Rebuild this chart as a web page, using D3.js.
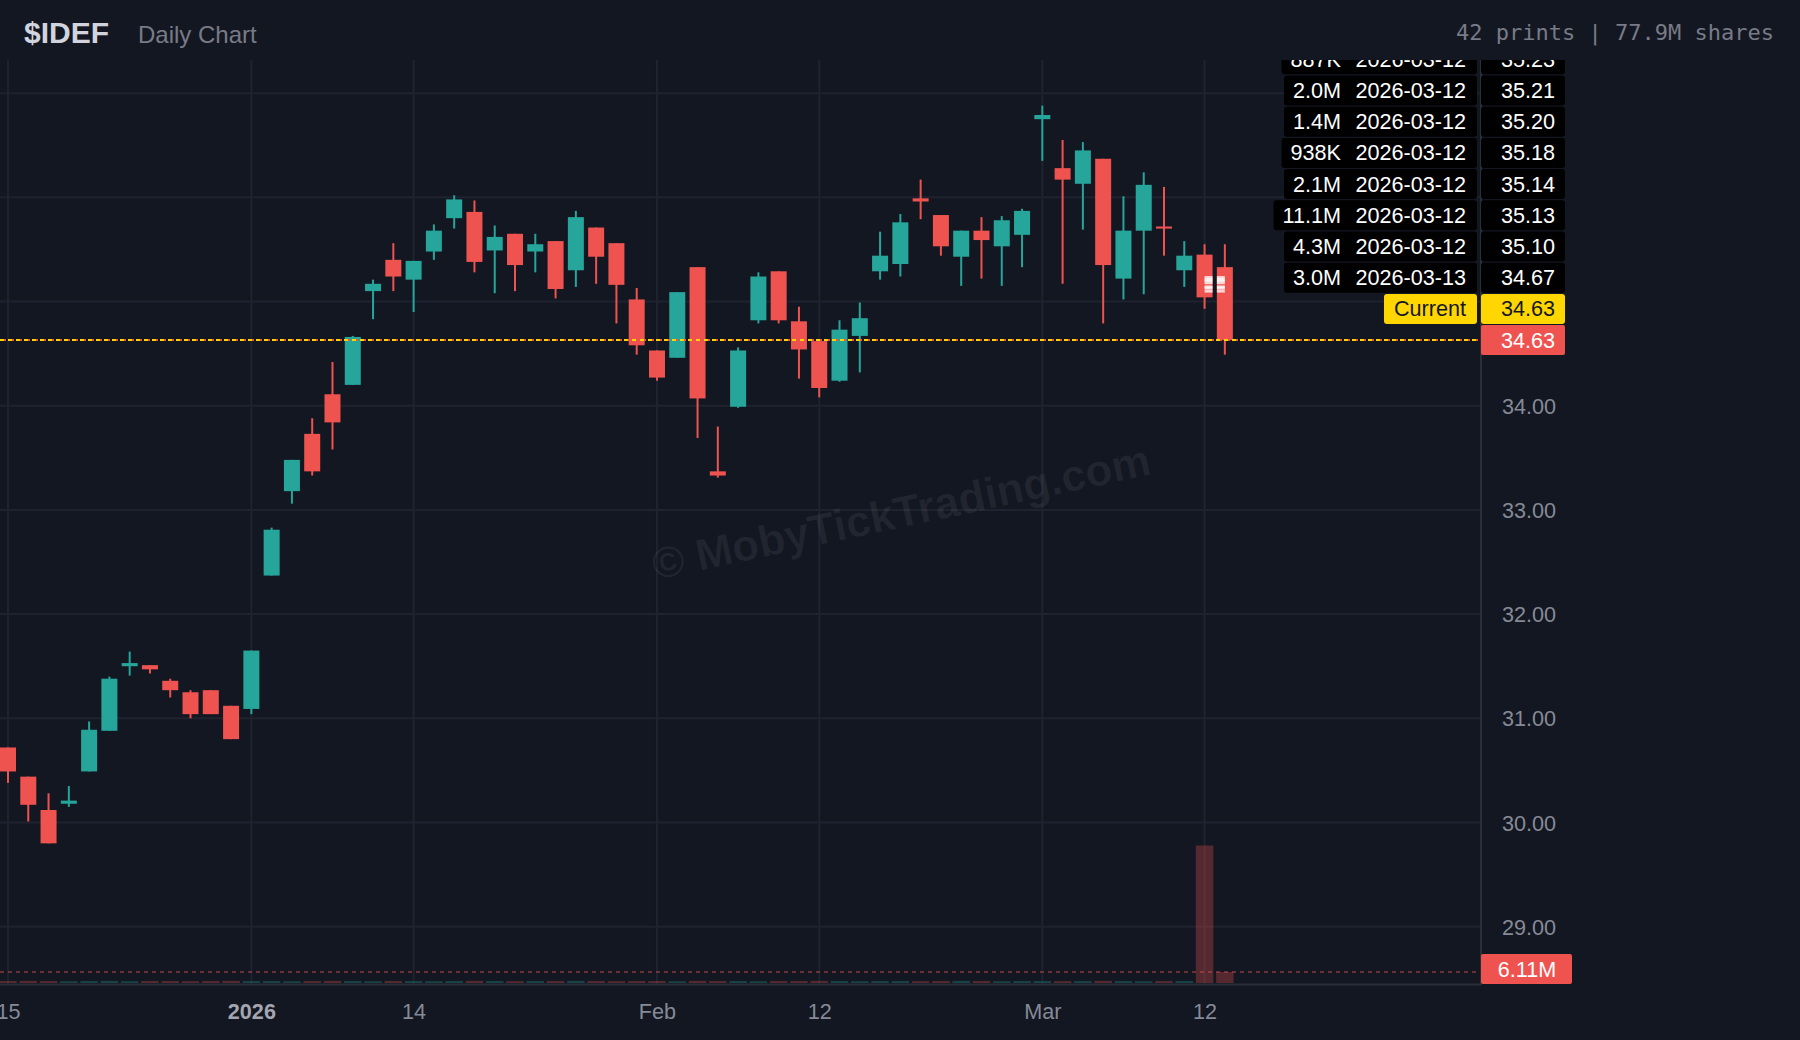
<!DOCTYPE html>
<html>
<head>
<meta charset="utf-8">
<script src="https://cdn.jsdelivr.net/npm/d3@7"></script>
<style>
  html, body { margin: 0; padding: 0; background: #131722; }
  svg { display: block; }
</style>
</head>
<body>
<svg id="chart" width="1800" height="1040"></svg>
<script>
// ---------------- DATA ----------------
const dates = [
  "2025-12-15","2025-12-16","2025-12-17","2025-12-18","2025-12-19",
  "2025-12-22","2025-12-23","2025-12-24","2025-12-26","2025-12-29",
  "2025-12-30","2025-12-31","2026-01-02","2026-01-05","2026-01-06",
  "2026-01-07","2026-01-08","2026-01-09","2026-01-12","2026-01-13",
  "2026-01-14","2026-01-15","2026-01-16","2026-01-20","2026-01-21",
  "2026-01-22","2026-01-23","2026-01-26","2026-01-27","2026-01-28",
  "2026-01-29","2026-01-30","2026-02-02","2026-02-03","2026-02-04",
  "2026-02-05","2026-02-06","2026-02-09","2026-02-10","2026-02-11",
  "2026-02-12","2026-02-13","2026-02-17","2026-02-18","2026-02-19",
  "2026-02-20","2026-02-23","2026-02-24","2026-02-25","2026-02-26",
  "2026-02-27","2026-03-02","2026-03-03","2026-03-04","2026-03-05",
  "2026-03-06","2026-03-09","2026-03-10","2026-03-11","2026-03-12",
  "2026-03-13"
];
const open = [
  30.72,30.44,30.12,30.18,30.49, 30.88,31.50,31.51,31.36,31.25,
  31.27,31.12,31.09,32.37,33.18, 33.73,34.11,34.20,35.10,35.40,
  35.21,35.48,35.80,35.86,35.49, 35.65,35.48,35.58,35.30,35.71,
  35.56,35.02,34.53,34.46,35.33, 33.37,33.99,34.82,35.29,34.81,
  34.62,34.24,34.67,35.29,35.36, 35.99,35.83,35.43,35.68,35.53,
  35.64,36.75,36.28,36.13,36.37, 35.22,35.68,35.72,35.30,35.45,
  35.33
];
const high = [
  30.72,30.44,30.28,30.35,30.97, 31.40,31.64,31.51,31.38,31.27,
  31.27,31.12,31.65,32.83,33.48, 33.88,34.42,34.67,35.21,35.56,
  35.39,35.74,36.02,35.97,35.73, 35.65,35.65,35.58,35.87,35.71,
  35.56,35.13,34.53,35.09,35.33, 33.80,34.56,35.28,35.29,34.95,
  34.63,34.82,34.99,35.67,35.84, 36.17,35.83,35.68,35.81,35.82,
  35.89,36.88,36.55,36.53,36.37, 36.01,36.24,36.10,35.58,35.55,
  35.55
];
const low = [
  30.38,30.01,29.80,30.15,30.49, 30.88,31.41,31.43,31.20,31.00,
  31.04,30.80,31.04,32.37,33.06, 33.33,33.58,34.20,34.83,35.10,
  34.90,35.40,35.70,35.28,35.08, 35.10,35.28,35.03,35.14,35.17,
  34.79,34.49,34.24,34.46,33.69, 33.31,33.98,34.79,34.79,34.26,
  34.08,34.23,34.32,35.21,35.24, 35.79,35.44,35.15,35.22,35.15,
  35.33,36.35,35.17,35.69,34.79, 35.02,35.07,35.44,35.14,34.93,
  34.49
];
const close = [
  30.49,30.17,29.80,30.21,30.89, 31.38,31.53,31.47,31.27,31.04,
  31.04,30.80,31.65,32.81,33.48, 33.37,33.84,34.66,35.17,35.24,
  35.39,35.68,35.98,35.38,35.62, 35.35,35.55,35.12,35.81,35.43,
  35.16,34.58,34.27,35.09,34.07, 33.33,34.53,35.24,34.82,34.54,
  34.17,34.73,34.84,35.44,35.76, 35.96,35.53,35.68,35.59,35.78,
  35.87,36.79,36.17,36.45,35.35, 35.68,36.12,35.70,35.44,35.04,
  34.63
];
// daily volume, millions of shares
const volume = [
  1.1,1.2,1.1,1.0,1.1, 1.2,1.0,1.1,1.1,1.0,
  1.1,1.2,1.1,1.1,1.0, 1.1,1.2,1.1,1.0,1.1,
  1.1,1.0,1.1,1.2,1.1, 1.0,1.1,1.1,1.2,1.1,
  1.0,1.1,1.1,1.0,1.2, 1.1,1.1,1.0,1.1,1.1,
  1.2,1.1,1.0,1.1,1.1, 1.0,1.1,1.2,1.1,1.0,
  1.1,1.1,1.0,1.1,1.2, 1.1,1.0,1.1,1.1,76.4,
  6.11
];
const priceTicks = [29, 30, 31, 32, 33, 34, 35, 36, 37];
const timeTickDates  = ["2025-12-15","2026-01-02","2026-01-14","2026-02-02","2026-02-12","2026-03-02","2026-03-12"];
const timeTickLabels = ["15","2026","14","Feb","12","Mar","12"];
const timeTickBold   = [false, true, false, false, false, false, false];

const printSizes  = ["887K","2.0M","1.4M","938K","2.1M","11.1M","4.3M","3.0M"];
const printDates  = ["2026-03-12","2026-03-12","2026-03-12","2026-03-12","2026-03-12","2026-03-12","2026-03-12","2026-03-13"];
const printPrices = [35.23, 35.21, 35.20, 35.18, 35.14, 35.13, 35.10, 34.67];

const currentPrice = 34.63;
const lastVolume = 6.11;
const ticker = "$IDEF";
const subtitle = "Daily Chart";
const summary = "42 prints | 77.9M shares";
const watermark = "\u00A9 MobyTickTrading.com";

// ---------------- LAYOUT ----------------
const W = 1800, H = 1040;
const plot = { left: 0, right: 1481, top: 60, bottom: 984 };
const C = {
  bg: "#131722", grid: "#1f232f", border: "#2a2e39",
  up: "#26a69a", down: "#ef5350", text: "#868a96",
  yellow: "#ffd600"
};
const FONT = "'Liberation Sans', Arial, Helvetica, sans-serif";
const FS = 21.6;

const svg = d3.select("#chart");
svg.append("rect").attr("width", W).attr("height", H).attr("fill", C.bg);

const defs = svg.append("defs");
defs.append("clipPath").attr("id", "plotClip")
  .append("rect").attr("x", plot.left).attr("y", plot.top)
  .attr("width", plot.right - plot.left).attr("height", plot.bottom - plot.top);
defs.append("clipPath").attr("id", "labelClip")
  .append("rect").attr("x", 0).attr("y", plot.top).attr("width", W).attr("height", H - plot.top);

// ---------------- SCALES ----------------
const idx = d3.range(dates.length);
const x = d3.scaleLinear().domain([-0.394, 72.63]).range([plot.left, plot.right]);
const y = d3.scaleLinear().domain([28.45, 37.318]).range([plot.bottom, plot.top]);
const yVol = d3.scaleLinear().domain([0, d3.max(volume)]).range([983, 845.5]);
const bodyW = 16, volW = 17.5;
const dateIndex = d => dates.indexOf(d);
const isUp = i => close[i] >= open[i];
const cy = y(currentPrice);

// label rows stacked above the last price
const rowStep = 31.2, rowH = 30;
const n = printPrices.length;
const rowY = k => cy - rowStep * (2 + (n - 1 - k));
const labelCenters = printPrices.map((p, k) => rowY(k)).concat([cy - rowStep, cy]);

// ---------------- GRID ----------------
const gridG = svg.append("g");
gridG.selectAll("line.h").data(priceTicks).join("line")
  .attr("x1", plot.left).attr("x2", plot.right)
  .attr("y1", d => y(d)).attr("y2", d => y(d))
  .attr("stroke", C.grid).attr("stroke-width", 2);
gridG.selectAll("line.v").data(timeTickDates).join("line")
  .attr("x1", d => x(dateIndex(d))).attr("x2", d => x(dateIndex(d)))
  .attr("y1", plot.top).attr("y2", plot.bottom)
  .attr("stroke", C.grid).attr("stroke-width", 2);

// ---------------- WATERMARK ----------------
svg.append("text")
  .attr("transform", "translate(901,512) rotate(-12)")
  .attr("text-anchor", "middle").attr("dy", "0.35em")
  .attr("font-family", FONT).attr("font-weight", "bold").attr("font-size", 44)
  .attr("fill", "rgba(255,255,255,0.06)")
  .text(watermark);

const plotG = svg.append("g").attr("clip-path", "url(#plotClip)");

// ---------------- VOLUME ----------------
plotG.append("g").selectAll("rect").data(idx).join("rect")
  .attr("x", i => x(i) - volW / 2).attr("width", volW)
  .attr("y", i => yVol(volume[i])).attr("height", i => yVol(0) - yVol(volume[i]))
  .attr("fill", i => isUp(i) ? C.up : C.down).attr("fill-opacity", 0.3);

plotG.append("line")
  .attr("x1", plot.left).attr("x2", plot.right)
  .attr("y1", yVol(lastVolume)).attr("y2", yVol(lastVolume))
  .attr("stroke", C.down).attr("stroke-opacity", 0.4).attr("stroke-width", 2)
  .attr("stroke-dasharray", "4 4");

// ---------------- CANDLES ----------------
const candleG = plotG.append("g");
candleG.selectAll("line").data(idx).join("line")
  .attr("x1", i => x(i)).attr("x2", i => x(i))
  .attr("y1", i => y(high[i])).attr("y2", i => y(low[i]))
  .attr("stroke", i => isUp(i) ? C.up : C.down).attr("stroke-width", 2);
const bodyTop = i => y(Math.max(open[i], close[i]));
const bodyH = i => Math.max(2, Math.abs(y(open[i]) - y(close[i])));
candleG.selectAll("rect").data(idx).join("rect")
  .attr("x", i => x(i) - bodyW / 2).attr("width", bodyW)
  .attr("y", bodyTop).attr("height", bodyH)
  .attr("fill", i => isUp(i) ? C.up : C.down);

// print markers, visible over the candle bodies
const bodyClip = defs.append("clipPath").attr("id", "bodyClip");
bodyClip.selectAll("rect").data(idx).join("rect")
  .attr("x", i => x(i) - bodyW / 2).attr("width", bodyW)
  .attr("y", bodyTop).attr("height", bodyH);
plotG.append("g").attr("clip-path", "url(#bodyClip)")
  .selectAll("rect").data(printPrices).join("rect")
  .attr("x", (p, k) => x(dateIndex(printDates[k])))
  .attr("width", (p, k) => Math.max(0, x(dates.length - 1) - x(dateIndex(printDates[k]))))
  .attr("y", p => y(p) - 1.5).attr("height", 3)
  .attr("fill", "#ffffff").attr("fill-opacity", 0.75);

// current price line (two-colour dash)
plotG.append("line").attr("x1", plot.left).attr("x2", plot.right).attr("y1", cy).attr("y2", cy)
  .attr("stroke", C.down).attr("stroke-width", 2).attr("stroke-dasharray", "2 6").attr("stroke-dashoffset", -4);
plotG.append("line").attr("x1", plot.left).attr("x2", plot.right).attr("y1", cy).attr("y2", cy)
  .attr("stroke", C.yellow).attr("stroke-width", 2).attr("stroke-dasharray", "4 4");

// ---------------- AXES / BORDERS ----------------
svg.append("line").attr("x1", plot.right).attr("x2", plot.right)
  .attr("y1", plot.top).attr("y2", plot.bottom + 1)
  .attr("stroke", C.border).attr("stroke-width", 2);
svg.append("line").attr("x1", plot.left).attr("x2", plot.right)
  .attr("y1", plot.bottom + 0.5).attr("y2", plot.bottom + 0.5)
  .attr("stroke", C.border).attr("stroke-width", 2);

// price axis labels (those covered by the price labels are hidden)
const visibleTicks = priceTicks.filter(t => labelCenters.every(c => Math.abs(y(t) - c) >= rowH));
const yAxis = d3.axisRight(y).tickValues(visibleTicks).tickSize(0).tickFormat(d3.format(".2f"));
const yAxisG = svg.append("g").attr("transform", `translate(1556,0)`).call(yAxis);
yAxisG.select(".domain").remove();
yAxisG.selectAll("text").attr("x", 0).attr("font-family", FONT).attr("font-size", FS)
  .attr("fill", C.text).attr("text-anchor", "end").attr("dy", "0.35em");

// time axis labels
const xAxis = d3.axisBottom(x)
  .tickValues(timeTickDates.map(dateIndex))
  .tickSize(0)
  .tickFormat((d, k) => timeTickLabels[k]);
const xAxisG = svg.append("g").attr("transform", `translate(0,${plot.bottom})`).call(xAxis);
xAxisG.select(".domain").remove();
xAxisG.selectAll("text")
  .attr("y", 27.5).attr("dy", "0.35em")
  .attr("font-family", FONT).attr("font-size", FS)
  .attr("font-weight", (d, k) => timeTickBold[k] ? "bold" : "normal")
  .attr("fill", (d, k) => timeTickBold[k] ? "#a3a6b0" : C.text);

// ---------------- PRINT TABLE ----------------
const sizeRight = 1341, dateRight = 1466, priceBoxL = plot.right, priceBoxR = 1565, leftBoxR = 1477, priceTextR = 1555;
const tableG = svg.append("g").attr("clip-path", "url(#labelClip)");

printPrices.forEach((p, k) => {
  const yc = rowY(k);
  const g = tableG.append("g");
  const leftRect = g.append("rect").attr("y", yc - rowH / 2).attr("height", rowH)
    .attr("rx", 3).attr("fill", "#000000");
  const sizeT = g.append("text").attr("x", sizeRight).attr("y", yc).attr("dy", "0.35em")
    .attr("text-anchor", "end").attr("font-family", FONT).attr("font-size", FS)
    .attr("fill", "#ffffff").text(printSizes[k]);
  g.append("text").attr("x", dateRight).attr("y", yc).attr("dy", "0.35em")
    .attr("text-anchor", "end").attr("font-family", FONT).attr("font-size", FS)
    .attr("fill", "#ffffff").text(printDates[k]);
  const sw = sizeT.node().getComputedTextLength();
  const lx = sizeRight - sw - 9;
  leftRect.attr("x", lx).attr("width", leftBoxR - lx);
  g.append("rect").attr("x", priceBoxL).attr("width", priceBoxR - priceBoxL)
    .attr("y", yc - rowH / 2).attr("height", rowH).attr("rx", 3).attr("fill", "#000000");
  g.append("text").attr("x", priceTextR).attr("y", yc).attr("dy", "0.35em")
    .attr("text-anchor", "end").attr("font-family", FONT).attr("font-size", FS)
    .attr("fill", "#ffffff").text(d3.format(".2f")(p));
});

// Current row (yellow)
{
  const yc = cy - rowStep;
  const g = tableG.append("g");
  const r = g.append("rect").attr("y", yc - rowH / 2).attr("height", rowH).attr("rx", 3).attr("fill", C.yellow);
  const t = g.append("text").attr("x", dateRight).attr("y", yc).attr("dy", "0.35em")
    .attr("text-anchor", "end").attr("font-family", FONT).attr("font-size", FS)
    .attr("fill", "#131722").text("Current");
  const tw = t.node().getComputedTextLength();
  r.attr("x", dateRight - tw - 10).attr("width", leftBoxR - (dateRight - tw - 10));
  g.append("rect").attr("x", priceBoxL).attr("width", priceBoxR - priceBoxL)
    .attr("y", yc - rowH / 2).attr("height", rowH).attr("rx", 3).attr("fill", C.yellow);
  g.append("text").attr("x", priceTextR).attr("y", yc).attr("dy", "0.35em")
    .attr("text-anchor", "end").attr("font-family", FONT).attr("font-size", FS)
    .attr("fill", "#131722").text(d3.format(".2f")(currentPrice));
}

// last price label (red)
tableG.append("rect").attr("x", priceBoxL).attr("width", priceBoxR - priceBoxL)
  .attr("y", cy - rowH / 2).attr("height", rowH).attr("rx", 2).attr("fill", C.down);
tableG.append("text").attr("x", priceTextR).attr("y", cy).attr("dy", "0.35em")
  .attr("text-anchor", "end").attr("font-family", FONT).attr("font-size", FS)
  .attr("fill", "#ffffff").text(d3.format(".2f")(currentPrice));

// last volume label
const vy = yVol(lastVolume);
svg.append("rect").attr("x", priceBoxL).attr("width", 1572 - priceBoxL)
  .attr("y", Math.min(vy - rowH / 2, plot.bottom - rowH)).attr("height", rowH).attr("rx", 2).attr("fill", C.down);
svg.append("text").attr("x", 1527).attr("y", Math.min(vy, plot.bottom - rowH / 2)).attr("dy", "0.35em")
  .attr("text-anchor", "middle").attr("font-family", FONT).attr("font-size", FS)
  .attr("fill", "#ffffff").text(d3.format(".2f")(lastVolume) + "M");

// ---------------- HEADER ----------------
svg.append("text").attr("x", 24).attr("y", 43)
  .attr("font-family", FONT).attr("font-weight", "bold").attr("font-size", 30)
  .attr("fill", "#d1d4dc").text(ticker);
svg.append("text").attr("x", 138).attr("y", 43)
  .attr("font-family", FONT).attr("font-size", 24)
  .attr("fill", "#787b86").text(subtitle);
svg.append("text").attr("x", 1774).attr("y", 39.5).attr("text-anchor", "end")
  .attr("font-family", "'DejaVu Sans Mono', monospace").attr("font-size", 22)
  .attr("fill", "#787b86").attr("xml:space", "preserve").text(summary);
</script>
</body>
</html>
